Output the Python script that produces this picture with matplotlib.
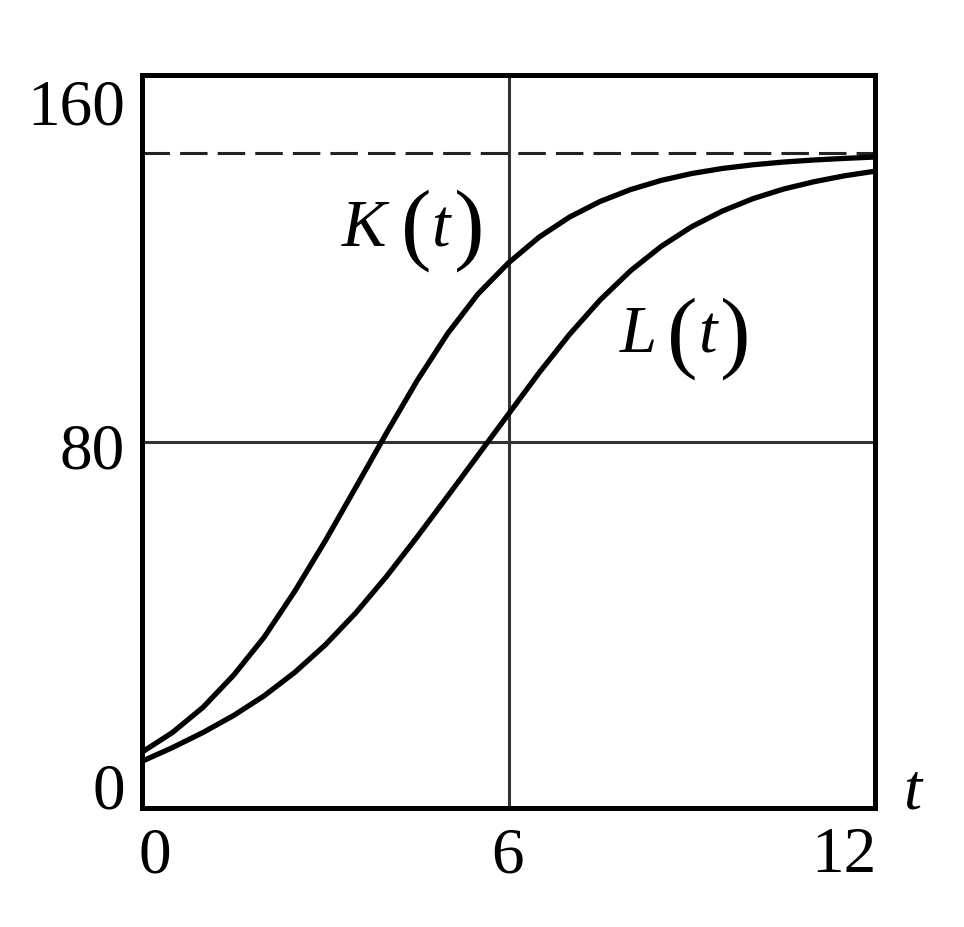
# plot.py ; K(t) and L(t) curves with asymptote
import matplotlib
matplotlib.use('Agg')
import matplotlib.pyplot as plt

t = [0, 0.5, 1, 1.5, 2, 2.5, 3, 3.5, 4, 4.5, 5, 5.5, 6,
     6.5, 7, 7.5, 8, 8.5, 9, 9.5, 10, 10.5, 11, 11.5, 12]
K = [12.2, 16.5, 22.0, 29.0, 37.3, 47.3, 58.3, 70.0, 81.8, 93.2, 103.5, 112.2, 119.0,
     124.6, 129.0, 132.4, 135.0, 137.0, 138.5, 139.6, 140.4, 141.0, 141.45, 141.8, 142.1]
L = [10.2, 13.2, 16.5, 20.2, 24.5, 29.6, 35.6, 42.6, 50.5, 59.1, 68.0, 77.0, 86.0,
     95.0, 103.4, 110.9, 117.3, 122.6, 126.9, 130.3, 133.0, 135.1, 136.7, 138.0, 139.0]
limit = 143
xticks = [0, 6, 12]
yticks = [0, 80, 160]

plt.rcParams['font.family'] = ['Liberation Serif', 'DejaVu Serif']

fig = plt.figure(figsize=(9.64, 9.28), dpi=100)
ax = fig.add_axes([0.1473, 0.1282, 0.7604, 0.7899])

ax.set_xlim(0, 12)
ax.set_ylim(0, 160)
ax.set_xticks([])
ax.set_yticks([])
for s in ax.spines.values():
    s.set_linewidth(3.6)
    s.set_color('black')

# grid lines at the middle ticks
ax.axvline(6, color='#333333', lw=2.2, zorder=1)
ax.axhline(80, color='#333333', lw=2.2, zorder=1)

ax.plot([0, 12], [limit, limit], color='#222222', lw=2.2,
        linestyle=(0, (9, 3.3)), zorder=2)
ax.plot(t, K, color='black', lw=3.8, zorder=3)
ax.plot(t, L, color='black', lw=3.8, zorder=3)

fs = 47
# tick labels (placed by hand like the original)
ax.text(-0.28, 149.5, str(yticks[2]), fontsize=fs, ha='right', va='baseline')
ax.text(-0.28, 74.3, str(yticks[1]), fontsize=fs, ha='right', va='baseline')
ax.text(-0.28, 0.2, str(yticks[0]), fontsize=fs, ha='right', va='baseline')
ax.text(0.21, -13.8, str(xticks[0]), fontsize=fs, ha='center', va='baseline')
ax.text(5.99, -13.8, str(xticks[1]), fontsize=fs, ha='center', va='baseline')
ax.text(11.49, -13.8, str(xticks[2]), fontsize=fs, ha='center', va='baseline')
ax.text(12.61, 0.2, 't', fontsize=fs, style='italic', ha='center', va='baseline')

# curve labels
ls, ps = 48, 66
ax.text(3.63, 122.8, 'K', fontsize=ls, style='italic', ha='center', va='baseline')
ax.text(4.49, 121.5, '(', fontsize=ps, ha='center', va='baseline')
ax.text(4.88, 122.8, 't', fontsize=ls, style='italic', ha='center', va='baseline')
ax.text(5.35, 121.5, ')', fontsize=ps, ha='center', va='baseline')

ax.text(8.13, 99.7, 'L', fontsize=ls, style='italic', ha='center', va='baseline')
ax.text(8.85, 97.9, '(', fontsize=ps, ha='center', va='baseline')
ax.text(9.26, 99.7, 't', fontsize=ls, style='italic', ha='center', va='baseline')
ax.text(9.71, 97.9, ')', fontsize=ps, ha='center', va='baseline')

plt.savefig('out.png', dpi=100)
